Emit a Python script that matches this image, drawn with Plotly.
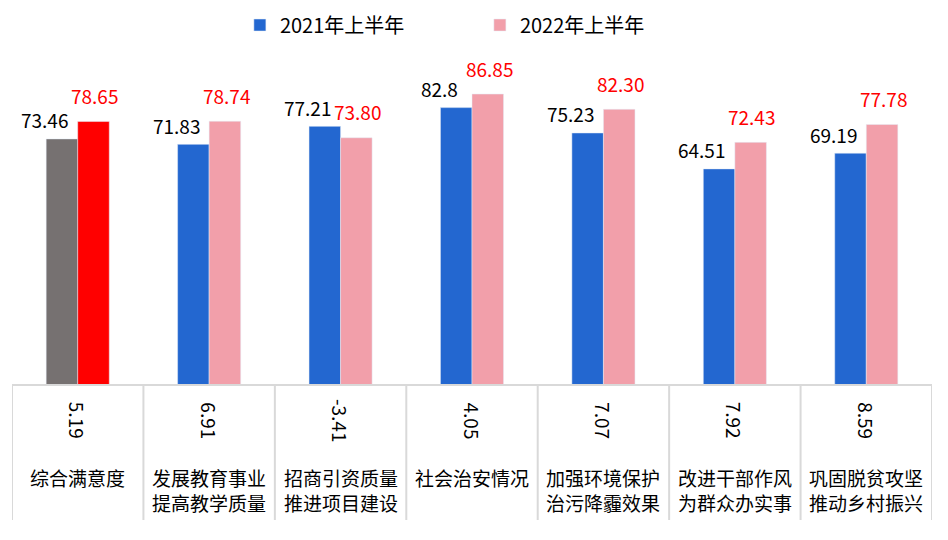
import plotly.graph_objects as go

line1 = ["综合满意度", "发展教育事业", "招商引资质量", "社会治安情况", "加强环境保护", "改进干部作风", "巩固脱贫攻坚"]
line2 = ["", "提高教学质量", "推进项目建设", "", "治污降霾效果", "为群众办实事", "推动乡村振兴"]
v2021 = [73.46, 71.83, 77.21, 82.8, 75.23, 64.51, 69.19]
v2022 = [78.65, 78.74, 73.80, 86.85, 82.30, 72.43, 77.78]
labels2021 = ["73.46", "71.83", "77.21", "82.8", "75.23", "64.51", "69.19"]
labels2022 = ["78.65", "78.74", "73.80", "86.85", "82.30", "72.43", "77.78"]
diffs = ["5.19", "6.91", "-3.41", "4.05", "7.07", "7.92", "8.59"]
series_names = ["2021年上半年", "2022年上半年"]

BLUE = "#2367D0"
PINK = "#F29FAA"
GRAY = "#767171"
RED = "#FF0000"
FONT = "Noto Sans CJK SC"

cats = [a + ("<br>" + b if b else "") for a, b in zip(line1, line2)]

fig = go.Figure()
fig.add_trace(go.Bar(x=cats[1:], y=v2021[1:], name=series_names[0], marker_color=BLUE,
                     offsetgroup="a", showlegend=True))
fig.add_trace(go.Bar(x=cats[1:], y=v2022[1:], name=series_names[1], marker_color=PINK,
                     offsetgroup="b", showlegend=True))
fig.add_trace(go.Bar(x=cats[:1], y=v2021[:1], name=series_names[0], marker_color=GRAY,
                     offsetgroup="a", showlegend=False))
fig.add_trace(go.Bar(x=cats[:1], y=v2022[:1], name=series_names[1], marker_color=RED,
                     offsetgroup="b", showlegend=False))

ann = []
for i, c in enumerate(cats):
    ann.append(dict(x=c, y=v2021[i], xref="x", yref="y", text=labels2021[i], showarrow=False,
                    xshift=-33, yshift=19, yanchor="middle",
                    font=dict(family=FONT, size=19, color="#000000")))
    ann.append(dict(x=c, y=v2022[i], xref="x", yref="y", text=labels2022[i], showarrow=False,
                    xshift=17, yshift=26, yanchor="middle",
                    font=dict(family=FONT, size=19, color=RED)))
    ann.append(dict(x=c, y=-0.106, xref="x", yref="paper", text=diffs[i], showarrow=False,
                    textangle=90, xanchor="center", yanchor="middle",
                    font=dict(family=FONT, size=19, color="#000000")))
    txt = line1[i] + ("<br>" + line2[i] if line2[i] else "")
    ann.append(dict(x=c, y=-0.229, xref="x", yref="paper", text=txt, showarrow=False,
                    xanchor="center", yanchor="top", align="center",
                    font=dict(family=FONT, size=19, color="#000000")))

shapes = [dict(type="line", xref="x", yref="paper", x0=-0.5, x1=len(cats) - 0.5, y0=0, y1=0,
               line=dict(color="#D9D9D9", width=2))]
for k in range(len(cats) + 1):
    shapes.append(dict(type="line", xref="x", yref="paper", x0=k - 0.5, x1=k - 0.5, y0=0, y1=-0.403,
                       line=dict(color="#D9D9D9", width=2)))

fig.update_layout(
    width=940, height=532,
    margin=dict(l=4, r=16, t=42, b=155),
    paper_bgcolor="white", plot_bgcolor="white",
    barmode="group", bargap=0.52, bargroupgap=0,
    font=dict(family=FONT, size=19, color="#000000"),
    xaxis=dict(type="category", categoryorder="array", categoryarray=cats,
               range=[-0.5, len(cats) - 0.5], showticklabels=False, showgrid=False,
               zeroline=False, showline=False, ticks=""),
    yaxis=dict(range=[0, 100], visible=False, showgrid=False, zeroline=False),
    legend=dict(orientation="h", x=0.502, xanchor="center", xref="container",
                y=0.968, yanchor="middle", yref="container",
                font=dict(family=FONT, size=20), entrywidth=195, entrywidthmode="pixels",
                bgcolor="rgba(0,0,0,0)"),
    annotations=ann, shapes=shapes,
)

fig.write_html("out.html")
